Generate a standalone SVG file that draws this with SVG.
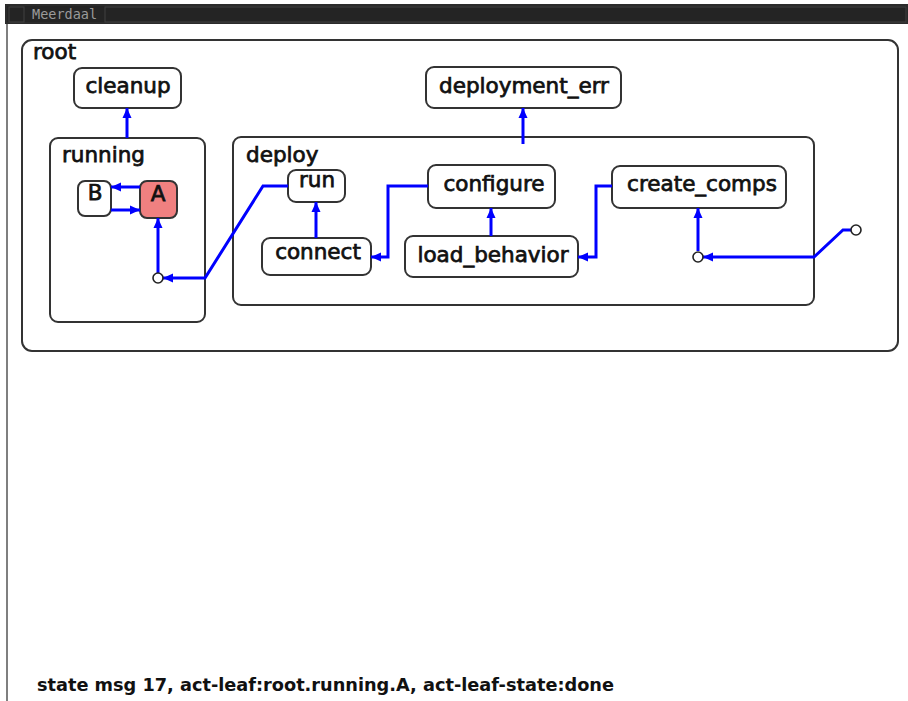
<svg xmlns="http://www.w3.org/2000/svg" width="908" height="701" viewBox="0 0 908 701">
  <style>
    .state { fill: #ffffff; stroke: #333333; stroke-width: 2; }
    .active { fill: #f08080; }
    .label { font-family: "DejaVu Sans", "Liberation Sans", sans-serif; font-size: 21.5px; fill: #111111; stroke: #111111; stroke-width: 0.75; }
    .mid { text-anchor: middle; }
    .init { fill: #ffffff; stroke: #222222; stroke-width: 1.6; }
    .tr { fill: none; stroke: #0000ff; stroke-width: 3; stroke-linejoin: miter; marker-end: url(#arrow); }
    .status { font-family: "DejaVu Sans Condensed", "DejaVu Sans", sans-serif; font-size: 17px; font-weight: bold; fill: #111111; }
  </style>
  <defs>
    <marker id="arrow" markerUnits="userSpaceOnUse" markerWidth="11" markerHeight="10" refX="10" refY="5" orient="auto">
      <path d="M0,0.5 L10,5 L0,9.5 z" fill="#0000ff"/>
    </marker>
  </defs>

  <!-- window frame -->
  <rect x="0" y="0" width="908" height="701" fill="#ffffff"/>
  <rect x="5" y="4" width="903" height="20" fill="#242424"/>
  <rect x="6" y="5" width="902" height="18" fill="none" stroke="#333333" stroke-width="1"/>
  <rect x="9" y="7" width="15" height="15" fill="none" stroke="#404040" stroke-width="1"/>
  <text x="32" y="19" font-family="DejaVu Sans Mono, Liberation Mono, monospace" font-size="13.5" fill="#9a9a9a">Meerdaal</text>
  <rect x="105" y="7" width="801" height="15" fill="none" stroke="#404040" stroke-width="1"/>
  <line x1="7" y1="24" x2="7" y2="701" stroke="#555555" stroke-width="1.5"/>

  <!-- composite states -->
  <g id="root">
    <rect class="state" x="22" y="40" width="876" height="311" rx="10"/>
    <text class="label" x="33" y="59">root</text>
  </g>
  <g id="running">
    <rect class="state" x="50" y="138" width="155" height="184" rx="8"/>
    <text class="label" x="62" y="162">running</text>
  </g>
  <g id="deploy">
    <rect class="state" x="233" y="137" width="581" height="168" rx="8"/>
    <text class="label" x="246" y="162">deploy</text>
  </g>

  <!-- leaf states -->
  <g id="cleanup">
    <rect class="state" x="74" y="68" width="107" height="40" rx="8"/>
    <text class="label mid" x="128" y="93">cleanup</text>
  </g>
  <g id="deployment_err">
    <rect class="state" x="426" y="67" width="195" height="41" rx="8"/>
    <text class="label mid" x="524" y="93">deployment_err</text>
  </g>
  <g id="B">
    <rect class="state" x="78" y="181" width="33" height="35" rx="7"/>
    <text class="label mid" x="95" y="200">B</text>
  </g>
  <g id="A">
    <rect class="state active" x="140" y="181" width="37" height="37" rx="7"/>
    <text class="label mid" x="158" y="201">A</text>
  </g>
  <g id="run">
    <rect class="state" x="288" y="170" width="57" height="32" rx="8"/>
    <text class="label mid" x="317" y="187">run</text>
  </g>
  <g id="connect">
    <rect class="state" x="262" y="238" width="109" height="37" rx="8"/>
    <text class="label mid" x="318" y="259">connect</text>
  </g>
  <g id="configure">
    <rect class="state" x="428" y="165" width="127" height="43" rx="8"/>
    <text class="label mid" x="494" y="191">configure</text>
  </g>
  <g id="load_behavior">
    <rect class="state" x="405" y="236" width="173" height="41" rx="8"/>
    <text class="label mid" x="493" y="262">load_behavior</text>
  </g>
  <g id="create_comps">
    <rect class="state" x="612" y="166" width="174" height="42" rx="8"/>
    <text class="label mid" x="702" y="191">create_comps</text>
  </g>

  <!-- transitions -->
  <g id="connectors">
    <path class="tr" d="M127,138 L127,108"/>
    <path class="tr" d="M523,144 L523,108"/>
    <path class="tr" d="M140,187 L111,187"/>
    <path class="tr" d="M111,210 L140,210"/>
    <path class="tr" d="M158,273 L158,218"/>
    <path class="tr" d="M288,186 L263,186 L205,278 L163,278"/>
    <path class="tr" d="M316,238 L316,202"/>
    <path class="tr" d="M428,186 L388,186 L388,257 L371,257"/>
    <path class="tr" d="M491,236 L491,208"/>
    <path class="tr" d="M612,186 L596,186 L596,257 L578,257"/>
    <path class="tr" d="M698,251 L698,208"/>
    <path class="tr" d="M851,230 L843,230 L814,257 L703,257"/>
  </g>

  <!-- initial pseudostates -->
  <g id="running_initial"><circle class="init" cx="158" cy="278" r="5"/></g>
  <g id="deploy_initial"><circle class="init" cx="698" cy="257" r="5"/></g>
  <g id="root_initial"><circle class="init" cx="856" cy="230" r="5"/></g>

  <text class="status" x="37" y="691" textLength="577" lengthAdjust="spacingAndGlyphs">state msg 17, act-leaf:root.running.A, act-leaf-state:done</text>
</svg>
